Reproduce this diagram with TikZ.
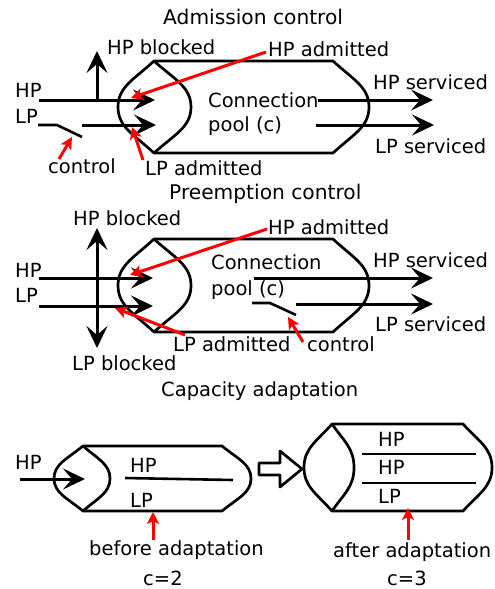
\documentclass[tikz,border=0pt]{standalone}
\usepackage{fontspec}
\setmainfont{DejaVu Sans}
\usetikzlibrary{arrows.meta}

% pool outline: #1 outer left x, #2 left corner x, #3 inner lens x,
% #4 right corner x, #5 outer right x, #6 top y, #7 bottom y
\newcommand\drawpool[7]{%
  \draw[poolline] (#2,#6) -- (#4,#6)
    .. controls ({#4+0.55*(#5-#4)},{#6+0.2*(#7-#6)}) and (#5,{0.5*(#6+#7)-0.22*(#7-#6)}) .. (#5,{0.5*(#6+#7)})
    .. controls (#5,{0.5*(#6+#7)+0.22*(#7-#6)}) and ({#4+0.55*(#5-#4)},{#7-0.2*(#7-#6)}) .. (#4,#7)
    -- (#2,#7)
    .. controls ({#2-0.55*(#2-#1)},{#7-0.2*(#7-#6)}) and (#1,{0.5*(#6+#7)+0.22*(#7-#6)}) .. (#1,{0.5*(#6+#7)})
    .. controls (#1,{0.5*(#6+#7)-0.22*(#7-#6)}) and ({#2-0.55*(#2-#1)},{#6+0.2*(#7-#6)}) .. (#2,#6) -- cycle;
  \draw[poolline] (#2,#6)
    .. controls ({#2+0.55*(#3-#2)},{#6+0.2*(#7-#6)}) and (#3,{0.5*(#6+#7)-0.22*(#7-#6)}) .. (#3,{0.5*(#6+#7)})
    .. controls (#3,{0.5*(#6+#7)+0.22*(#7-#6)}) and ({#2+0.55*(#3-#2)},{#7-0.2*(#7-#6)}) .. (#2,#7);
}

\tikzset{
  poolline/.style={line width=2.7pt, line join=round},
  flow/.style={line width=3pt, -{Stealth[length=22pt,width=21pt,inset=9pt]}},
  bothflow/.style={line width=3pt, {Stealth[length=22pt,width=21pt,inset=9pt]}-{Stealth[length=22pt,width=21pt,inset=9pt]}},
  plain/.style={line width=2.6pt},
  pointer/.style={line width=3pt, red, -{Stealth[length=12pt,width=12pt,inset=3pt]}},
  txt/.style={inner sep=0pt, text height=14.2pt, text depth=0pt, anchor=west},
  title/.style={txt, font=\fontsize{20.2}{24}\selectfont},
}

\begin{document}
\begin{tikzpicture}[x=1pt, y=-1pt, font=\fontsize{19.5}{23}\selectfont]
\useasboundingbox (0,0) rectangle (495,589);

% ---------------- Admission control ----------------
\node[title] (t1) at (163,17) {Admission control};
\drawpool{118}{154}{191}{333}{369}{61}{153}
\node[txt] (a-hpb) at (107,47) {HP blocked};
\node[txt] (a-hpa) at (268,49) {HP admitted};
\node[txt] (a-hp) at (15,90) {HP};
\node[txt] (a-lp) at (15,116) {LP};
\node[txt] (a-con) at (208,100) {Connection};
\node[txt] (a-pool) at (208,124.5) {pool (c)};
\node[txt] (a-hps) at (373,82) {HP serviced};
\node[txt] (a-lps) at (375,146) {LP serviced};
\node[txt] (a-ctl) at (48,166) {control};
\node[txt] (a-lpa) at (145,168) {LP admitted};

\coordinate (a-hp0) at (39,100);
\coordinate (a-hp1) at (155,100);
\coordinate (a-br) at (97,100);
\coordinate (a-up) at (97,51);
\coordinate (a-lp0) at (38,125);
\coordinate (a-sw0) at (57,125);
\coordinate (a-sw1) at (82,137);
\coordinate (a-lp2) at (82,125);
\coordinate (a-lp1) at (156,125);
\coordinate (a-hs0) at (318,100);
\coordinate (a-hs1) at (433,100);
\coordinate (a-ls0) at (316,125);
\coordinate (a-ls1) at (434,125);
\draw[flow] (a-hp0) -- (a-hp1);
\draw[flow] (a-br) -- (a-up);
\draw[plain] (a-lp0) -- (a-sw0) -- (a-sw1);
\draw[flow] (a-lp2) -- (a-lp1);
\draw[flow] (a-hs0) -- (a-hs1);
\draw[flow] (a-ls0) -- (a-ls1);

\coordinate (a-r1a) at (266,52);  \coordinate (a-r1b) at (131,98);
\coordinate (a-r2a) at (143,160); \coordinate (a-r2b) at (132,127);
\coordinate (a-r3a) at (59,159);  \coordinate (a-r3b) at (72,137);
\draw[pointer] (a-r1a) -- (a-r1b);
\draw[pointer] (a-r2a) -- (a-r2b);
\draw[pointer] (a-r3a) -- (a-r3b);

% ---------------- Preemption control ----------------
\node[title] (t2) at (169,192) {Preemption control};
\drawpool{118}{154}{191}{333}{369}{239}{332}
\node[txt] (p-hpb) at (73,218) {HP blocked};
\node[txt] (p-lpb) at (72,363) {LP blocked};
\node[txt] (p-hp) at (15,270) {HP};
\node[txt] (p-lp) at (15,295) {LP};
\node[txt] (p-hpa) at (268,227) {HP admitted};
\node[txt] (p-con) at (211,262) {Connection};
\node[txt] (p-pool) at (211,288) {pool (c)};
\node[txt] (p-hps) at (373,260) {HP serviced};
\node[txt] (p-lps) at (375,324) {LP serviced};
\node[txt] (p-ctl) at (307,344) {control};
\node[txt] (p-lpa) at (173,344) {LP admitted};

\coordinate (p-hp0) at (39,278);
\coordinate (p-hp1) at (153,278);
\coordinate (p-lp0) at (39,306);
\coordinate (p-lp1) at (153,306);
\coordinate (p-up) at (97,228);
\coordinate (p-dn) at (97,348);
\coordinate (p-hs0) at (254,278);
\coordinate (p-hs1) at (433,278);
\coordinate (p-sw0) at (252,303);
\coordinate (p-sw1) at (270,303);
\coordinate (p-sw2) at (296,315);
\coordinate (p-ls0) at (296,304);
\coordinate (p-ls1) at (433,304);
\draw[flow] (p-hp0) -- (p-hp1);
\draw[flow] (p-lp0) -- (p-lp1);
\draw[bothflow] (p-up) -- (p-dn);
\draw[flow] (p-hs0) -- (p-hs1);
\draw[plain] (p-sw0) -- (p-sw1) -- (p-sw2);
\draw[flow] (p-ls0) -- (p-ls1);

\coordinate (p-r1a) at (267,229); \coordinate (p-r1b) at (130,275);
\coordinate (p-r2a) at (185,335); \coordinate (p-r2b) at (115,308);
\coordinate (p-r3a) at (303,342); \coordinate (p-r3b) at (288,317);
\draw[pointer] (p-r1a) -- (p-r1b);
\draw[pointer] (p-r2a) -- (p-r2b);
\draw[pointer] (p-r3a) -- (p-r3b);

% ---------------- Capacity adaptation ----------------
\node[txt] (t3) at (161,389) {Capacity adaptation};

% before: c=2
\drawpool{54}{83}{110}{222}{251}{446}{511}
\node[txt] (b-hpin) at (15,462) {HP};
\node[txt] (b-hp) at (130,465) {HP};
\node[txt] (b-lp) at (130,500) {LP};
\node[txt] (b-lab) at (89,548) {before adaptation};
\node[txt] (b-c) at (143,578) {c=2};
\coordinate (b-in0) at (20,479);
\coordinate (b-in1) at (85,479);
\coordinate (b-s0) at (125,478);
\coordinate (b-s1) at (233,480);
\coordinate (b-ra) at (153,540);
\coordinate (b-rb) at (153,512);
\draw[flow] (b-in0) -- (b-in1);
\draw[plain] (b-s0) -- (b-s1);
\draw[pointer] (b-ra) -- (b-rb);

% transition arrow
\draw[poolline, fill=white] (259,463) -- (280,463) -- (280,451) -- (302,469)
  -- (280,487) -- (280,475) -- (259,475) -- cycle;

% after: c=3
\drawpool{304}{332}{354}{463}{492}{424}{511}
\node[txt] (c-hp1) at (378,439) {HP};
\node[txt] (c-hp2) at (378,467) {HP};
\node[txt] (c-lp) at (378,496) {LP};
\node[txt] (c-lab) at (333,550) {after adaptation};
\node[txt] (c-c) at (387,578) {c=3};
\coordinate (c-s0) at (362,454);
\coordinate (c-s1) at (476,454);
\coordinate (c-s2) at (362,483);
\coordinate (c-s3) at (476,483);
\coordinate (c-ra) at (408,540);
\coordinate (c-rb) at (408,508);
\draw[plain] (c-s0) -- (c-s1);
\draw[plain] (c-s2) -- (c-s3);
\draw[pointer] (c-ra) -- (c-rb);

\end{tikzpicture}
\end{document}
